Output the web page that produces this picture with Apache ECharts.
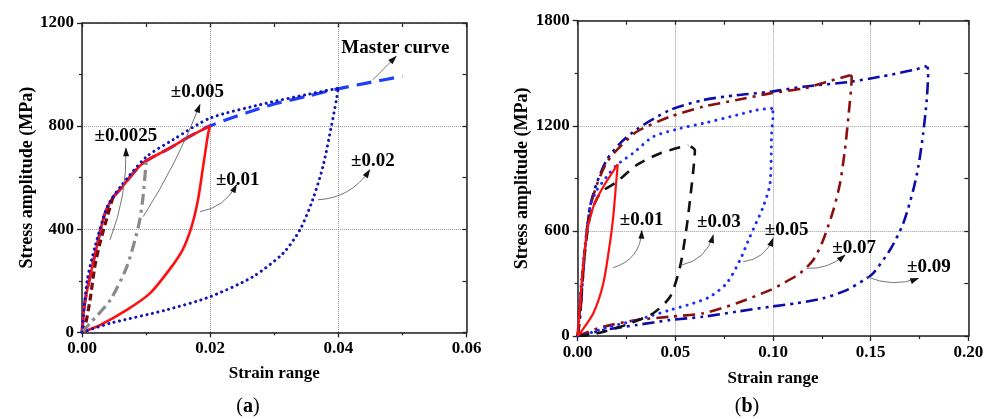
<!DOCTYPE html>
<html><head><meta charset="utf-8">
<script src="https://cdn.jsdelivr.net/npm/echarts@6/dist/echarts.min.js"></script>
<style>html,body{margin:0;padding:0;background:#fff}#c{width:989px;height:419px}</style>
</head><body><div id="c"></div>
<script>
// ---------- Panel (a) data: [strain range, stress amplitude MPa] ----------
const a_master = [[0,0],[0.0004,110],[0.00125,216],[0.0023,332],[0.0035,455],[0.0048,522],[0.006,556],[0.0085,632],[0.01,665],[0.0132,708],[0.0168,760],[0.02,801],[0.0257,852],[0.03,886],[0.035,915],[0.04,945],[0.0444,967],[0.05,993]];
const a_r0025_lower = [[0,0],[0.00047,22],[0.00125,125],[0.002,255],[0.0028,346],[0.0038,436],[0.0046,505],[0.005,535]];
const a_r005_lower = [[0,0],[0.00125,35],[0.0044,125],[0.007,255],[0.0088,410],[0.0095,520],[0.01,660]];
const a_r01_upper = [[0,0],[0.0004,110],[0.00125,216],[0.0023,332],[0.0035,455],[0.0048,522],[0.006,556],[0.0085,632],[0.01,665],[0.0132,708],[0.0168,760],[0.02,801]];
const a_r01_lower = [[0,0],[0.0028,28],[0.007,87],[0.0106,151],[0.0137,245],[0.0157,320],[0.0171,410],[0.0181,514],[0.0189,643],[0.0197,773],[0.02,801]];
const a_r02_upper = [[0,0],[0.0008,200],[0.002,330],[0.004,490],[0.006,565],[0.01,680],[0.0142,747],[0.02,831],[0.0288,889],[0.035,922],[0.04,947]];
const a_r02_lower = [[0,0],[0.0044,35],[0.0132,87],[0.02,138],[0.0267,216],[0.0314,307],[0.034,397],[0.036,514],[0.0376,643],[0.0389,798],[0.0397,902],[0.04,947]];

const a_labels = ['Master curve','±0.005','±0.0025','±0.01','±0.02'];
const a_label_pos = [[0.0489,1103],[0.018,930],[0.00686,762],[0.0243,591],[0.0454,666]];
const a_arrow_from = [[0.0454,980],[0.00955,449],[0.00436,358],[0.0184,468],[0.0368,514]];
const a_arrow_to = [[0.049,1070],[0.0184,883],[0.00686,714],[0.0241,572],[0.0449,630]];
const a_arrow_bend = [0, 0.05, 0.1, 0.25, 0.25];

// ---------- Panel (b) data ----------
const b_r01_upper = [[0,0],[0.002,300],[0.0046,586],[0.008,738],[0.0131,852],[0.0205,980]];
const b_r01_lower = [[0,0],[0.0012,15],[0.008,130],[0.0131,300],[0.0165,530],[0.0182,680],[0.0195,850],[0.0205,980]];
const b_r03_upper = [[0,0],[0.0029,395],[0.0063,681],[0.0114,814],[0.02,880],[0.0302,976],[0.0421,1042],[0.0566,1090]];
const b_r03_lower = [[0,0],[0.0063,6],[0.0165,34],[0.0268,72],[0.0387,130],[0.0473,224],[0.0524,395],[0.0558,624],[0.0575,776],[0.0592,947],[0.06,1060],[0.0566,1090]];
const b_r05_upper = [[0,0],[0.002,320],[0.0063,738],[0.0097,830],[0.0148,909],[0.02,976],[0.0285,1045],[0.0387,1138],[0.0524,1185],[0.0643,1214],[0.0814,1261],[0.0916,1290],[0.0993,1299]];
const b_r05_lower = [[0,0],[0.0029,6],[0.0165,53],[0.0302,91],[0.0473,148],[0.0592,187],[0.0677,224],[0.0763,301],[0.0831,434],[0.0882,567],[0.095,738],[0.0985,871],[0.0993,1157],[0.1001,1271],[0.0993,1299]];
const b_r07_upper = [[0,0],[0.0012,110],[0.0037,491],[0.0063,730],[0.0097,860],[0.0148,990],[0.0217,1081],[0.0302,1166],[0.0473,1252],[0.0643,1309],[0.0814,1347],[0.0985,1385],[0.1155,1413],[0.1257,1445],[0.1395,1489]];
const b_r07_lower = [[0,0],[0.0012,6],[0.0131,53],[0.0302,91],[0.0473,110],[0.0643,130],[0.0814,187],[0.0985,262],[0.1053,301],[0.1138,358],[0.1206,434],[0.1257,548],[0.1309,719],[0.1343,871],[0.1368,1061],[0.1386,1252],[0.1403,1480],[0.1395,1489]];
const b_r09_upper = [[0,0],[0.0012,110],[0.0037,491],[0.0063,738],[0.0097,871],[0.0148,1004],[0.0217,1100],[0.0302,1180],[0.0473,1290],[0.0643,1347],[0.0814,1375],[0.0985,1394],[0.1155,1423],[0.1394,1451],[0.1548,1480],[0.1718,1518],[0.1787,1541]];
const b_r09_lower = [[0,0],[0.0029,6],[0.0131,34],[0.0302,63],[0.0473,91],[0.0643,110],[0.0814,139],[0.0985,167],[0.1121,187],[0.1257,215],[0.1377,262],[0.148,330],[0.1513,358],[0.1599,491],[0.1667,643],[0.1718,833],[0.1744,966],[0.1769,1157],[0.1787,1347],[0.1795,1518],[0.1787,1541]];

const b_labels = ['±0.01','±0.03','±0.05','±0.07','±0.09'];
const b_label_pos = [[0.0327,662],[0.0723,652],[0.107,605],[0.1415,500],[0.1798,395]];
const b_arrow_from = [[0.0182,390],[0.0532,405],[0.0848,424],[0.1172,386],[0.148,339]];
const b_arrow_to = [[0.0328,601],[0.0694,576],[0.1,557],[0.1368,462],[0.1744,329]];
const b_arrow_bend = [0.35, 0.3, 0.3, 0.2, 0.2];

// ---------- axis settings ----------
const a_x = {max:0.06, interval:0.02};
const a_y = {max:1200, interval:400};
const b_x = {max:0.20, interval:0.05};
const b_y = {max:1800, interval:600};

const FONT = '"Liberation Serif","Times New Roman",serif';
const FRAME = {color:'#222', width:1.5};

function xAxes(gi, s, gap){
  return [{
    gridIndex:gi, type:'value', position:'bottom', min:0, max:s.max, interval:s.interval,
    axisLine:{show:true, onZero:false, lineStyle:FRAME},
    axisTick:{show:true, inside:false, length:5, lineStyle:{color:'#222', width:1.3}},
    minorTick:{show:true, splitNumber:2, length:3, lineStyle:{color:'#222', width:1.2}},
    axisLabel:{formatter:v=>v.toFixed(2), color:'#000', fontFamily:FONT, fontWeight:'bold', fontSize:17, margin:8},
    splitLine:{show:true, lineStyle:{type:'dotted', color:'#9a9a9a', width:1}},
    name:'Strain range', nameLocation:'middle', nameGap:gap,
    nameTextStyle:{color:'#000', fontFamily:FONT, fontWeight:'bold', fontSize:17}
  },{
    gridIndex:gi, type:'value', position:'top', min:0, max:s.max, interval:s.interval,
    axisLine:{show:true, onZero:false, lineStyle:FRAME},
    axisTick:{show:true, inside:true, length:4, lineStyle:{color:'#222', width:1.3}},
    minorTick:{show:true, splitNumber:2, length:4, lineStyle:{color:'#222', width:1.2}},
    axisLabel:{show:false}, splitLine:{show:false}
  }];
}
function yAxes(gi, s, gap){
  return [{
    gridIndex:gi, type:'value', position:'left', min:0, max:s.max, interval:s.interval,
    axisLine:{show:true, onZero:false, lineStyle:FRAME},
    axisTick:{show:true, inside:false, length:5, lineStyle:{color:'#222', width:1.3}},
    minorTick:{show:true, splitNumber:2, length:3, lineStyle:{color:'#222', width:1.2}},
    axisLabel:{formatter:v=>String(v), color:'#000', fontFamily:FONT, fontWeight:'bold', fontSize:17, margin:8},
    splitLine:{show:true, lineStyle:{type:'dotted', color:'#9a9a9a', width:1}},
    name:'Stress amplitude (MPa)', nameLocation:'middle', nameGap:gap, nameRotate:90,
    nameTextStyle:{color:'#000', fontFamily:FONT, fontWeight:'bold', fontSize:18}
  },{
    gridIndex:gi, type:'value', position:'right', min:0, max:s.max, interval:s.interval,
    axisLine:{show:true, onZero:false, lineStyle:FRAME},
    axisTick:{show:true, inside:true, length:4, lineStyle:{color:'#222', width:1.3}},
    minorTick:{show:true, splitNumber:2, length:4, lineStyle:{color:'#222', width:1.2}},
    axisLabel:{show:false}, splitLine:{show:false}
  }];
}

function line(data, gi, color, width, dash, cap){
  return {
    type:'line', data:data, xAxisIndex:gi*2, yAxisIndex:gi*2,
    symbol:'none', showSymbol:false, smooth:0.25, silent:true, animation:false,
    lineStyle:{color:color, width:width, type:dash, cap:cap||'butt', join:'round'}
  };
}

const DOT = [0.1, 5.5];
const series = [
  // panel (a)
  line(a_master, 0, '#1f3fff', 3.2, [15, 8]),
  line(a_r01_lower, 0, '#ff1010', 2.6, 'solid'),
  line(a_r01_upper, 0, '#ff1010', 2.6, 'solid'),
  line(a_r0025_lower, 0, '#7a0a0a', 3.2, [7, 4]),
  line(a_r005_lower, 0, '#8a8a8a', 3.2, [11, 5, 3, 5]),
  line(a_r02_lower, 0, '#1414b4', 3, DOT, 'round'),
  line(a_r02_upper, 0, '#1414b4', 3, DOT, 'round'),
  // panel (b)
  line(b_r09_upper, 1, '#0c0cab', 2.6, [12, 5, 3, 5, 3, 5]),
  line(b_r09_lower, 1, '#0c0cab', 2.6, [12, 5, 3, 5, 3, 5]),
  line(b_r07_upper, 1, '#8a0f0f', 2.6, [12, 6, 3, 6]),
  line(b_r07_lower, 1, '#8a0f0f', 2.6, [12, 6, 3, 6]),
  line(b_r05_upper, 1, '#1a2cff', 3, [0.1, 7], 'round'),
  line(b_r05_lower, 1, '#1a2cff', 3, [0.1, 7], 'round'),
  line(b_r03_upper, 1, '#111111', 2.6, [11, 8]),
  line(b_r03_lower, 1, '#111111', 2.6, [11, 8]),
  line(b_r01_upper, 1, '#ff1010', 2.2, 'solid'),
  line(b_r01_lower, 1, '#ff1010', 2.2, 'solid')
];

const chart = echarts.init(document.getElementById('c'), null, {renderer:'canvas'});
chart.setOption({
  animation:false,
  backgroundColor:'#fff',
  grid:[
    {left:82, top:23, width:384.5, height:309.3, outerBoundsMode:'none'},
    {left:577.7, top:20.7, width:390.6, height:315.3, outerBoundsMode:'none'}
  ],
  xAxis:[...xAxes(0, a_x, 33), ...xAxes(1, b_x, 34)],
  yAxis:[...yAxes(0, a_y, 43), ...yAxes(1, b_y, 42)],
  series:series
});

// ---------- annotations (positioned via the chart's own scales) ----------
function annotations(gi, labels, pos, from, to, bend){
  const els = [];
  for (let i = 0; i < labels.length; i++){
    const p = chart.convertToPixel({gridIndex:gi}, pos[i]);
    const s = chart.convertToPixel({gridIndex:gi}, from[i]);
    const e = chart.convertToPixel({gridIndex:gi}, to[i]);
    const dx = e[0]-s[0], dy = e[1]-s[1];
    const cx = (s[0]+e[0])/2 - dy*bend[i], cy = (s[1]+e[1])/2 + dx*bend[i];
    els.push({type:'bezierCurve', silent:true, z:50,
      shape:{x1:s[0], y1:s[1], x2:e[0], y2:e[1], cpx1:cx, cpy1:cy},
      style:{stroke:'#666', lineWidth:0.9, fill:null}});
    let ux = e[0]-cx, uy = e[1]-cy; const L = Math.hypot(ux, uy) || 1; ux/=L; uy/=L;
    const len = 8, hw = 3;
    const bx = e[0]-ux*len, by = e[1]-uy*len;
    els.push({type:'polygon', silent:true, z:51,
      shape:{points:[[e[0]+ux*1,e[1]+uy*1],[bx-uy*hw, by+ux*hw],[bx+uy*hw, by-ux*hw]]},
      style:{fill:'#111'}});
    els.push({type:'text', silent:true, z:52, x:p[0], y:p[1],
      style:{text:labels[i], fill:'#000', font:'bold 19px ' + FONT, align:'center', verticalAlign:'middle'}});
  }
  return els;
}
const capStyle = (t) => ({type:'text', silent:true, z:52,
  style:{text:'{n|(}{b|' + t + '}{n|)}', align:'center', verticalAlign:'middle',
    rich:{n:{fontFamily:FONT, fontSize:20, fill:'#000', color:'#000'}, b:{fontFamily:FONT, fontSize:20, fontWeight:'bold', fill:'#000', color:'#000'}}}});
const capA = capStyle('a'); capA.x = 248; capA.y = 407;
const capB = capStyle('b'); capB.x = 747; capB.y = 407;

chart.setOption({graphic:[
  ...annotations(0, a_labels, a_label_pos, a_arrow_from, a_arrow_to, a_arrow_bend),
  ...annotations(1, b_labels, b_label_pos, b_arrow_from, b_arrow_to, b_arrow_bend),
  capA, capB
]});
</script>
</body></html>
